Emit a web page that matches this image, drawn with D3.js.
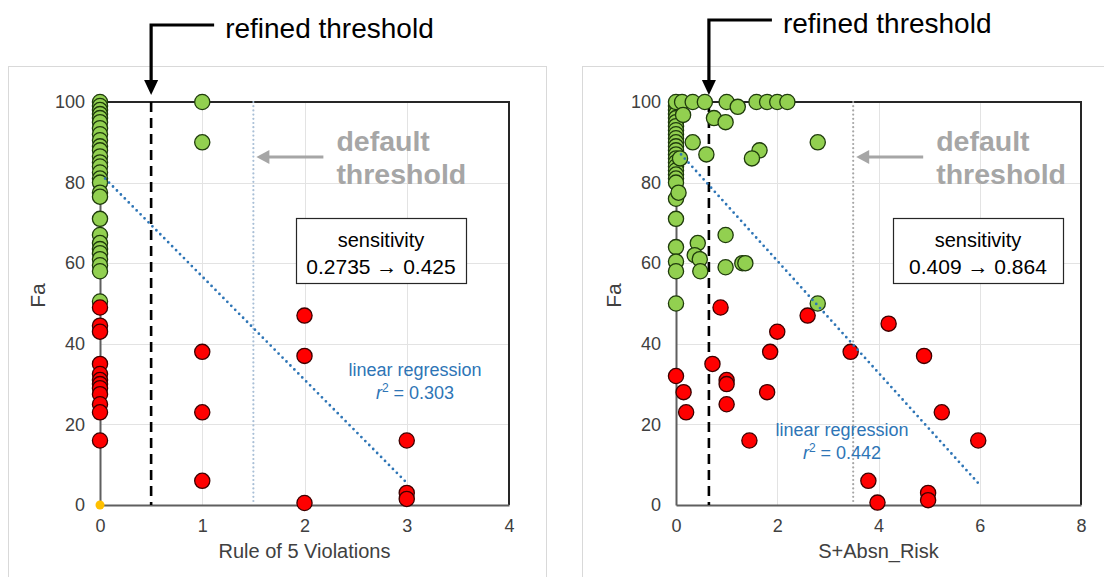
<!DOCTYPE html>
<html>
<head>
<meta charset="utf-8">
<script src="https://cdn.jsdelivr.net/npm/d3@7"></script>
<style>
  html, body { margin: 0; padding: 0; background: #fff; }
  svg { display: block; font-family: "Liberation Sans", Arial, sans-serif; }
</style>
</head>
<body>
<svg id="chart" width="1104" height="577"></svg>
<script>
// ---- Rule of 5 violations vs Fa ----
const ruleGreenX0 = [100, 99, 98, 97, 96, 95, 93.5, 92, 90.5, 89, 88, 86.5, 85, 84, 82.5, 81, 80, 77.5, 76.5, 71, 67, 65, 63.5, 62.5, 61, 59.5, 58, 50.5];
const ruleGreenX1 = [100, 90];
const ruleRed = [
  [0, 49], [0, 44.5], [0, 43], [0, 35], [0, 32.5], [0, 31], [0, 30], [0, 29], [0, 27.5], [0, 25], [0, 23], [0, 16],
  [1, 38], [1, 23], [1, 6],
  [2, 47], [2, 37], [2, 0.5],
  [3, 16], [3, 3], [3, 1.5]
];
const ruleZero = [[0, 0]];
const ruleFit = [[0.05, 81], [3, 5.5]];
const ruleTicksX = [0, 1, 2, 3, 4];

// ---- S+Absn_Risk vs Fa ----
const riskGreenX0 = [99, 98, 97, 96, 95, 94, 93, 92, 91, 90, 89, 88, 87, 86, 85, 84, 83, 82, 81, 80, 76, 71, 64, 60.4, 58, 50];
const riskGreen = [
  [0, 100], [0.12, 100], [0.33, 100], [0.57, 100], [1.0, 100], [1.22, 98.8], [1.59, 100], [1.8, 100], [2.0, 100], [2.2, 100],
  [0.14, 96.8], [0.75, 96], [0.98, 95],
  [0.33, 90], [0.6, 87], [0.08, 86], [1.65, 88], [1.5, 86], [2.8, 90],
  [0.05, 77.5],
  [0.43, 65], [0.37, 62], [0.47, 61], [0.48, 58], [0.98, 67], [0.98, 59], [1.31, 60], [1.37, 60], [2.8, 50]
];
const riskRed = [
  [0.88, 49], [2.6, 47], [2.0, 43], [1.86, 38], [0.72, 35], [0, 32], [1.0, 31], [1.0, 30], [0.15, 28], [1.8, 28],
  [1.0, 25], [0.2, 23], [1.45, 16], [3.45, 38], [4.2, 45], [4.9, 37], [5.25, 23], [5.97, 16], [3.8, 6], [3.98, 0.6],
  [4.98, 3], [4.98, 1.2]
];
const riskFit = [[0.1, 87], [6, 5]];
const riskTicksX = [0, 2, 4, 6, 8];

const faTicks = [0, 20, 40, 60, 80, 100];

const panels = [
  {
    frameX: 8, frameW: 538, x0: 100, x1: 509, xMax: 4, xTicks: ruleTicksX,
    xLabel: "Rule of 5 Violations",
    green: ruleGreenX0.map(v => [0, v]).concat(ruleGreenX1.map(v => [1, v])),
    red: ruleRed, zero: ruleZero, fit: ruleFit,
    refined: 0.5, refinedTextY: 28,
    dflt: 1.5, dfltColor: "#a9bfd6",
    sens: ["sensitivity", "0.2735 \u2192 0.425"], boxX: 296,
    r2: "0.303", regX: 415, regY: 370
  },
  {
    frameX: 582, frameW: 540, x0: 676, x1: 1081, xMax: 8, xTicks: riskTicksX,
    xLabel: "S+Absn_Risk",
    green: riskGreenX0.map(v => [0, v]).concat(riskGreen),
    red: riskRed, zero: [], fit: riskFit,
    refined: 0.65, refinedTextY: 23,
    dflt: 3.5, dfltColor: "#a6a6a6",
    sens: ["sensitivity", "0.409 \u2192 0.864"], boxX: 893,
    r2: "0.442", regX: 842, regY: 430
  }
];

const svg = d3.select("#chart");
const yTop = 102, yBot = 505;
const y = d3.scaleLinear().domain([0, 100]).range([yBot, yTop]);

panels.forEach(p => {
  const x = d3.scaleLinear().domain([0, p.xMax]).range([p.x0, p.x1]);
  const g = svg.append("g");

  // outer chart frame
  g.append("rect")
    .attr("x", p.frameX + 0.5).attr("y", 66.5)
    .attr("width", p.frameW).attr("height", 540)
    .attr("fill", "none").attr("stroke", "#d9d9d9").attr("stroke-width", 1);

  // gridlines
  g.append("g").selectAll("line").data(faTicks.filter(t => t > 0 && t < 100)).join("line")
    .attr("x1", p.x0).attr("x2", p.x1)
    .attr("y1", d => Math.round(y(d)) + 0.5).attr("y2", d => Math.round(y(d)) + 0.5)
    .attr("stroke", "#e3e3e3").attr("stroke-width", 1);
  g.append("g").selectAll("line").data(p.xTicks.filter(t => t > 0 && t < p.xMax)).join("line")
    .attr("x1", d => Math.round(x(d)) + 0.5).attr("x2", d => Math.round(x(d)) + 0.5)
    .attr("y1", yTop).attr("y2", yBot)
    .attr("stroke", "#e3e3e3").attr("stroke-width", 1);

  // plot border (top / right)
  g.append("path")
    .attr("d", `M${p.x0},${yTop}H${p.x1}V${yBot}`)
    .attr("fill", "none").attr("stroke", "#262626").attr("stroke-width", 2);

  // axes
  const xAxis = d3.axisBottom(x).tickValues(p.xTicks).tickFormat(d3.format("d")).tickSize(0).tickPadding(14);
  const yAxis = d3.axisLeft(y).tickValues(faTicks).tickFormat(d3.format("d")).tickSize(0).tickPadding(15);
  const gx = g.append("g").attr("transform", `translate(0,${yBot})`).call(xAxis);
  const gy = g.append("g").attr("transform", `translate(${p.x0},0)`).call(yAxis);
  [gx, gy].forEach(a => {
    a.select(".domain").attr("stroke", "#5f5f5f").attr("stroke-width", 2);
    a.selectAll("text").attr("font-size", 18).attr("fill", "#404040")
      .attr("font-family", "Liberation Sans, Arial, sans-serif");
  });
  gx.selectAll("text").attr("dy", "0.71em");

  // axis titles
  g.append("text").attr("x", (p.x0 + p.x1) / 2).attr("y", 558)
    .attr("text-anchor", "middle").attr("font-size", 20).attr("fill", "#404040")
    .text(p.xLabel);
  g.append("text")
    .attr("transform", `translate(${p.x0 - 55},${(yTop + yBot) / 2 - 8}) rotate(-90)`)
    .attr("text-anchor", "middle").attr("font-size", 21).attr("fill", "#404040")
    .text("Fa");

  // default threshold (dotted)
  g.append("line")
    .attr("x1", x(p.dflt)).attr("x2", x(p.dflt)).attr("y1", yTop).attr("y2", yBot)
    .attr("stroke", p.dfltColor).attr("stroke-width", 2.2)
    .attr("stroke-dasharray", "0 4.2").attr("stroke-linecap", "round");

  // refined threshold (dashed)
  g.append("line")
    .attr("x1", x(p.refined)).attr("x2", x(p.refined)).attr("y1", yTop).attr("y2", yBot)
    .attr("stroke", "#000").attr("stroke-width", 2.6)
    .attr("stroke-dasharray", "10 6");

  // points
  const dot = (data, fill, stroke) => g.append("g").selectAll("circle").data(data).join("circle")
    .attr("cx", d => x(d[0])).attr("cy", d => y(d[1])).attr("r", 7.6)
    .attr("fill", fill).attr("stroke", stroke).attr("stroke-width", 1.3);
  dot(p.green, "#92d050", "#1f3b0c");
  dot(p.red, "#ff0000", "#3d0000");
  g.append("g").selectAll("circle").data(p.zero).join("circle")
    .attr("cx", d => x(d[0])).attr("cy", d => y(d[1])).attr("r", 4.5)
    .attr("fill", "#ffc000");

  // regression line
  g.append("path")
    .attr("d", d3.line().x(d => x(d[0])).y(d => y(d[1]))(p.fit))
    .attr("fill", "none").attr("stroke", "#2e75b6").attr("stroke-width", 2.8)
    .attr("stroke-dasharray", "0 5.6").attr("stroke-linecap", "round");

  const reg = g.append("g").attr("fill", "#2e75b6").attr("font-size", 18).attr("text-anchor", "middle");
  reg.append("text").attr("x", p.regX).attr("y", p.regY + 6).text("linear regression");
  const r2 = reg.append("text").attr("x", p.regX).attr("y", p.regY + 29);
  r2.append("tspan").attr("font-style", "italic").text("r");
  r2.append("tspan").attr("font-size", 12).attr("dy", -7).text("2");
  r2.append("tspan").attr("dy", 7).text(" = " + p.r2);

  // sensitivity box
  const bx = p.boxX, by = 218, bw = 170, bh = 65;
  g.append("rect").attr("x", bx + 0.5).attr("y", by + 0.5).attr("width", bw).attr("height", bh)
    .attr("fill", "#fff").attr("stroke", "#262626").attr("stroke-width", 1.2);
  g.append("text").attr("x", bx + bw / 2).attr("y", by + 29).attr("text-anchor", "middle")
    .attr("font-size", 20).attr("fill", "#000").text(p.sens[0]);
  g.append("text").attr("x", bx + bw / 2).attr("y", by + 56).attr("text-anchor", "middle")
    .attr("font-size", 21).attr("fill", "#000").text(p.sens[1]);

  // refined-threshold callout
  const rx = x(p.refined), ry = p.refinedTextY - 3;
  g.append("path")
    .attr("d", `M${rx + 63},${ry}H${rx}V${yTop - 20}`)
    .attr("fill", "none").attr("stroke", "#000").attr("stroke-width", 3.2);
  g.append("path")
    .attr("d", `M${rx - 7},${yTop - 22}L${rx + 7},${yTop - 22}L${rx},${yTop - 7}Z`)
    .attr("fill", "#000");
  g.append("text").attr("x", rx + 74).attr("y", p.refinedTextY + 10)
    .attr("font-size", 28).attr("fill", "#000").text("refined threshold");

  // default-threshold callout
  const dx = x(p.dflt), dy = 157;
  g.append("path").attr("d", `M${dx + 70},${dy}H${dx + 14}`)
    .attr("stroke", "#a6a6a6").attr("stroke-width", 3.2);
  g.append("path")
    .attr("d", `M${dx + 16},${dy - 7}L${dx + 16},${dy + 7}L${dx + 3},${dy}Z`)
    .attr("fill", "#a6a6a6");
  const dt = g.append("text").attr("font-size", 28.5).attr("font-weight", "bold").attr("fill", "#a6a6a6");
  dt.append("tspan").attr("x", dx + 83).attr("y", 151).text("default");
  dt.append("tspan").attr("x", dx + 83).attr("y", 184).text("threshold");
});
</script>
</body>
</html>
